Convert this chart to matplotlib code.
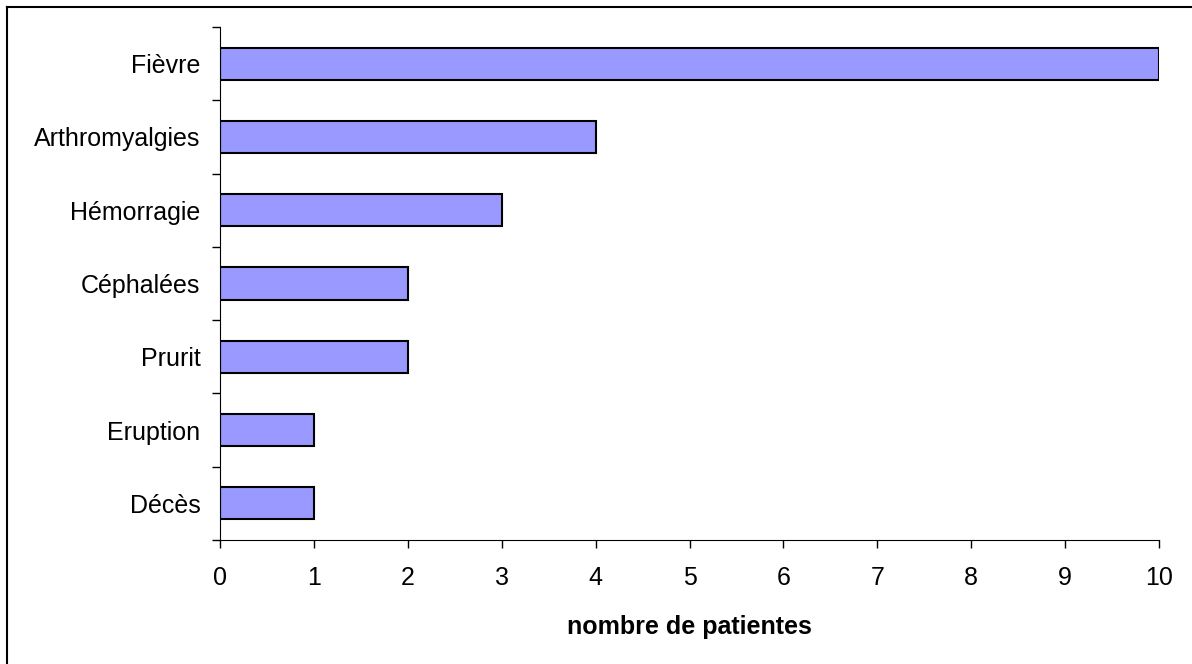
import matplotlib.pyplot as plt
from matplotlib.lines import Line2D

categories = ["Fièvre", "Arthromyalgies", "Hémorragie", "Céphalées", "Prurit", "Eruption", "Décès"]
values = [10, 4, 3, 2, 2, 1, 1]
xticks = list(range(0, 11))

plt.rcParams['font.family'] = ['Liberation Sans', 'DejaVu Sans']

W, H = 1192, 664
fig = plt.figure(figsize=(W / 100, H / 100), dpi=100)
ax = fig.add_axes([220 / W, 1 - 540 / H, (1159 - 220) / W, (540 - 27) / H])

pos = list(range(len(categories)))[::-1]
ax.barh(pos, values, height=0.44, color="#9999FF", edgecolor="black", linewidth=1.5)

ax.set_xlim(0, 10)
ax.set_ylim(-0.5, len(categories) - 0.5)
ax.set_xticks(xticks)
ax.set_xticklabels([str(t) for t in xticks], fontsize=18)
ax.set_yticks(pos)
ax.set_yticklabels(categories, fontsize=18)
ax.tick_params(axis="y", length=0, pad=14)
ax.set_yticks([p - 0.5 for p in range(len(categories) + 1)], minor=True)
ax.tick_params(axis="y", which="minor", length=6, width=1)
ax.tick_params(axis="x", length=6, width=1, pad=13)
ax.spines["top"].set_visible(False)
ax.spines["right"].set_visible(False)
ax.set_xlabel("nombre de patientes", fontsize=18, fontweight="bold", labelpad=18)

# outer frame (only left and top edges visible)
fig.add_artist(Line2D([7 / W, 7 / W], [0, 1 - 7 / H], color="black", lw=1.5))
fig.add_artist(Line2D([7 / W, 1], [1 - 7 / H, 1 - 7 / H], color="black", lw=1.5))

fig.savefig("out.png", dpi=100)
